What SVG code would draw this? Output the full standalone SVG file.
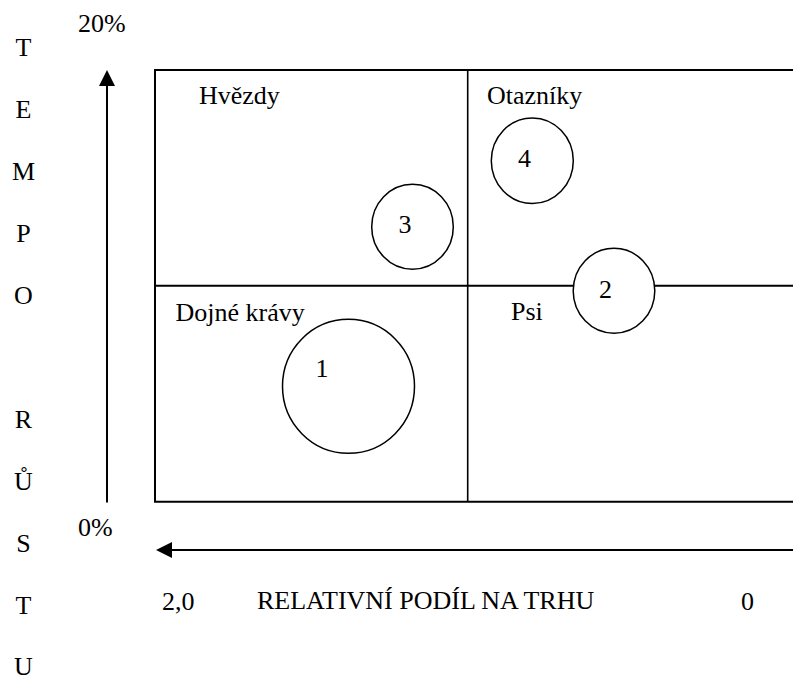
<svg xmlns="http://www.w3.org/2000/svg" width="793" height="677" viewBox="0 0 793 677">
<style>
text{font-family:'Liberation Serif','Tinos','DejaVu Serif',serif;font-size:26px;fill:#000}
.axis{text-anchor:middle}
.ln{stroke:#000;stroke-width:2;fill:none}
.c{stroke:#000;stroke-width:1.5;fill:#fff}
</style>
<defs>
<marker id="ah" markerWidth="16" markerHeight="16" refX="0" refY="8" orient="auto" markerUnits="userSpaceOnUse" viewBox="0 0 16 16">
<path d="M0,0 L16,8 L0,16 Z" fill="#000"/>
</marker>
</defs>
<rect width="793" height="677" fill="#fff"/>
<g font-family="Liberation Serif, serif" font-size="26">
<g id="axis-y-label">
<text class="axis" x="23.5" y="56">T</text>
<text class="axis" x="23.5" y="118">E</text>
<text class="axis" x="23.5" y="180">M</text>
<text class="axis" x="23.5" y="242">P</text>
<text class="axis" x="23.5" y="304">O</text>
<text class="axis" x="23.5" y="428">R</text>
<text class="axis" x="23.5" y="490">Ů</text>
<text class="axis" x="23.5" y="552">S</text>
<text class="axis" x="23.5" y="614">T</text>
<text class="axis" x="23.5" y="675">U</text>
</g>
<g id="scale-labels">
<text x="78" y="32">20%</text>
<text x="78" y="536">0%</text>
<text x="162" y="610">2,0</text>
<text x="257" y="609">RELATIVNÍ PODÍL NA TRHU</text>
<text x="741" y="610">0</text>
</g>
<g id="connectors">
<line class="ln" x1="107" y1="502.5" x2="107" y2="86" marker-end="url(#ah)"/>
<line class="ln" x1="793" y1="550" x2="172" y2="550" marker-end="url(#ah)"/>
</g>
<g id="matrix">
<path class="ln" d="M793,70 H155 V501.7 H793"/>
<line class="ln" x1="155" y1="285.7" x2="793" y2="285.7"/>
<line x1="467.7" y1="70" x2="467.7" y2="501.7" stroke="#000" stroke-width="1.6"/>
</g>
<g id="q-hvezdy"><text x="199" y="104">Hvězdy</text></g>
<g id="q-otazniky"><text x="487" y="104">Otazníky</text></g>
<g id="q-dojne"><text x="175.5" y="320.5">Dojné krávy</text></g>
<g id="q-psi"><text x="511" y="320">Psi</text></g>
<g id="item-3"><ellipse class="c" cx="412.5" cy="226.7" rx="40.8" ry="42.5"/><text x="398.5" y="233.3">3</text></g>
<g id="item-4"><ellipse class="c" cx="532.3" cy="160.7" rx="41" ry="42.8"/><text x="518" y="167.3">4</text></g>
<g id="item-2"><ellipse class="c" cx="614" cy="290.8" rx="40.8" ry="42.5"/><text x="599" y="298.3">2</text></g>
<g id="item-1"><ellipse class="c" cx="348.5" cy="386.3" rx="66" ry="67"/><text x="315.5" y="377.3">1</text></g>
</g>
</svg>
